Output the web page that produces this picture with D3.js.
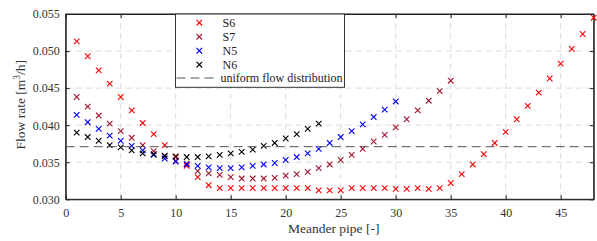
<!DOCTYPE html>
<html>
<head>
<meta charset="utf-8">
<script src="https://cdn.jsdelivr.net/npm/d3@7"></script>
<style>
  body { margin: 0; background: #fff; }
  svg { display: block; font-family: "Liberation Serif", "DejaVu Serif", serif; }
</style>
</head>
<body>
<svg id="chart" width="597" height="241"></svg>
<script>
// flow rate per meander pipe
const seriesNames = ["S6", "S7", "N5", "N6"];
const seriesColors = ["#ff0000", "#a2142f", "#0000ff", "#000000"];

const s6 = [0.0513, 0.0493, 0.0474, 0.0456, 0.0438, 0.0420, 0.0403, 0.0388, 0.0373, 0.0357,
  0.0345, 0.0330, 0.0319, 0.0315, 0.0315, 0.0315, 0.0315, 0.0315, 0.0315, 0.0315,
  0.0315, 0.0315, 0.0312, 0.0312, 0.0312, 0.0315, 0.0315, 0.0315, 0.0315, 0.0314,
  0.0314, 0.0315, 0.0314, 0.0315, 0.0322, 0.0334, 0.0347, 0.0361, 0.0376, 0.0391,
  0.0408, 0.0426, 0.0444, 0.0463, 0.0483, 0.0503, 0.0523, 0.0545];
const s7 = [0.0438, 0.0425, 0.0413, 0.0402, 0.0392, 0.0383, 0.0373, 0.0365, 0.0358, 0.0352,
  0.0348, 0.0338, 0.0335, 0.0333, 0.0330, 0.0328, 0.0328, 0.0328, 0.0329, 0.0332,
  0.0334, 0.0337, 0.0342, 0.0347, 0.0353, 0.0360, 0.0368, 0.0378, 0.0387, 0.0397,
  0.0408, 0.0420, 0.0433, 0.0446, 0.0460];
const n5 = [0.0414, 0.0404, 0.0395, 0.0386, 0.0379, 0.0372, 0.0366, 0.0360, 0.0355, 0.0351,
  0.0347, 0.0345, 0.0343, 0.0342, 0.0342, 0.0343, 0.0345, 0.0347, 0.0349, 0.0353,
  0.0357, 0.0362, 0.0368, 0.0376, 0.0384, 0.0392, 0.0401, 0.0411, 0.0421, 0.0432];
const n6 = [0.0390, 0.0384, 0.0379, 0.0373, 0.0370, 0.0366, 0.0362, 0.0361, 0.0359, 0.0358,
  0.0357, 0.0357, 0.0358, 0.0360, 0.0362, 0.0364, 0.0367, 0.0372, 0.0376, 0.0382,
  0.0388, 0.0395, 0.0402];
const uniformFlow = 0.0371;

const xTicks = [0, 5, 10, 15, 20, 25, 30, 35, 40, 45];
const yTicks = [0.030, 0.035, 0.040, 0.045, 0.050, 0.055];

const margin = { left: 65.7, right: 3.3, top: 14, bottom: 41.7 };
const width = 597, height = 241;

const svg = d3.select("#chart");

const x = d3.scaleLinear().domain([0, 48]).range([margin.left, width - margin.right]);
const y = d3.scaleLinear().domain([0.030, 0.055]).range([height - margin.bottom, margin.top]);

const x0 = x.range()[0], x1 = x.range()[1];
const y0 = y.range()[0], y1 = y.range()[1];

//grid
const grid = svg.append("g").attr("stroke", "#dcdcdc").attr("stroke-width", 1)
  .attr("stroke-dasharray", "6,4");
grid.selectAll(".gx").data(xTicks.filter(d => d > 0)).enter().append("line")
  .attr("x1", d => x(d)).attr("x2", d => x(d)).attr("y1", y0).attr("y2", y1);
grid.selectAll(".gy").data(yTicks.filter(d => d > 0.030 && d < 0.055)).enter().append("line")
  .attr("x1", x0).attr("x2", x1).attr("y1", d => y(d)).attr("y2", d => y(d));

//axes, ticks pointing inward
const xAxis = svg.append("g").attr("transform", "translate(0," + y0 + ")")
  .call(d3.axisBottom(x).tickValues(xTicks).tickSizeInner(-4).tickSizeOuter(0).tickPadding(9));
const yAxis = svg.append("g").attr("transform", "translate(" + x0 + ",0)")
  .call(d3.axisLeft(y).tickValues(yTicks).tickFormat(d3.format(".3f"))
    .tickSizeInner(-4).tickSizeOuter(0).tickPadding(6));
svg.append("g").attr("transform", "translate(0," + y1 + ")")
  .call(d3.axisTop(x).tickValues(xTicks).tickSizeInner(-4).tickSizeOuter(0).tickFormat(""));
svg.append("g").attr("transform", "translate(" + x1 + ",0)")
  .call(d3.axisRight(y).tickValues(yTicks).tickSizeInner(-4).tickSizeOuter(0).tickFormat(""));

svg.selectAll(".domain").attr("stroke", "#222");
svg.selectAll(".tick line").attr("stroke", "#222");
svg.selectAll(".tick text").attr("fill", "#333").style("font-size", "12px")
  .style("font-family", "'Liberation Serif', serif");

//frame
svg.append("rect").attr("x", x0).attr("y", y1).attr("width", x1 - x0).attr("height", y0 - y1)
  .attr("fill", "none").attr("stroke", "#222").attr("stroke-width", 1);

//axis titles
svg.append("text").attr("x", (x0 + x1) / 2 + 4).attr("y", 233)
  .attr("text-anchor", "middle").attr("fill", "#333").style("font-size", "13.5px")
  .text("Meander pipe [-]");

const yTitle = svg.append("text")
  .attr("transform", "translate(25," + ((y0 + y1) / 2 - 2) + ") rotate(-90)")
  .attr("text-anchor", "middle").attr("fill", "#333").style("font-size", "13.5px");
yTitle.append("tspan").text("Flow rate [m");
yTitle.append("tspan").attr("dy", -5).style("font-size", "9.5px").text("3");
yTitle.append("tspan").attr("dy", 5).text("/h]");

//markers
const allSeries = [s6, s7, n5, n6];
const cross = d3.symbol().type(d3.symbolX).size(22);

allSeries.forEach(function (vals, i) {
  svg.append("g").attr("class", "series-" + seriesNames[i])
    .selectAll("path").data(vals).enter().append("path")
    .attr("d", cross)
    .attr("transform", (d, j) => "translate(" + x(j + 1) + "," + y(d) + ")")
    .attr("fill", "none").attr("stroke", seriesColors[i]).attr("stroke-width", 1.1);
});

//uniform flow line
svg.append("line").attr("x1", x0).attr("x2", x1)
  .attr("y1", y(uniformFlow)).attr("y2", y(uniformFlow))
  .attr("stroke", "#555").attr("stroke-width", 1).attr("stroke-dasharray", "9,5");

//legend
const lg = svg.append("g").attr("transform", "translate(175.5,14)");
lg.append("rect").attr("width", 169).attr("height", 73.3)
  .attr("fill", "#fff").attr("stroke", "#333").attr("stroke-width", 1);
const rows = lg.selectAll(".row").data(seriesNames).enter().append("g")
  .attr("transform", (d, i) => "translate(0," + (8.7 + i * 14) + ")");
rows.append("path").attr("d", cross)
  .attr("transform", "translate(23.8,0)")
  .attr("fill", "none").attr("stroke", (d, i) => seriesColors[i]).attr("stroke-width", 1.1);
rows.append("text").attr("x", 47).attr("y", 4).attr("fill", "#222")
  .style("font-size", "12px").text(d => d);
lg.append("line").attr("x1", 1).attr("x2", 43).attr("y1", 64).attr("y2", 64)
  .attr("stroke", "#555").attr("stroke-width", 1).attr("stroke-dasharray", "9,5");
lg.append("text").attr("x", 45).attr("y", 68).attr("fill", "#222")
  .style("font-size", "12px").text("uniform flow distribution");
</script>
</body>
</html>
